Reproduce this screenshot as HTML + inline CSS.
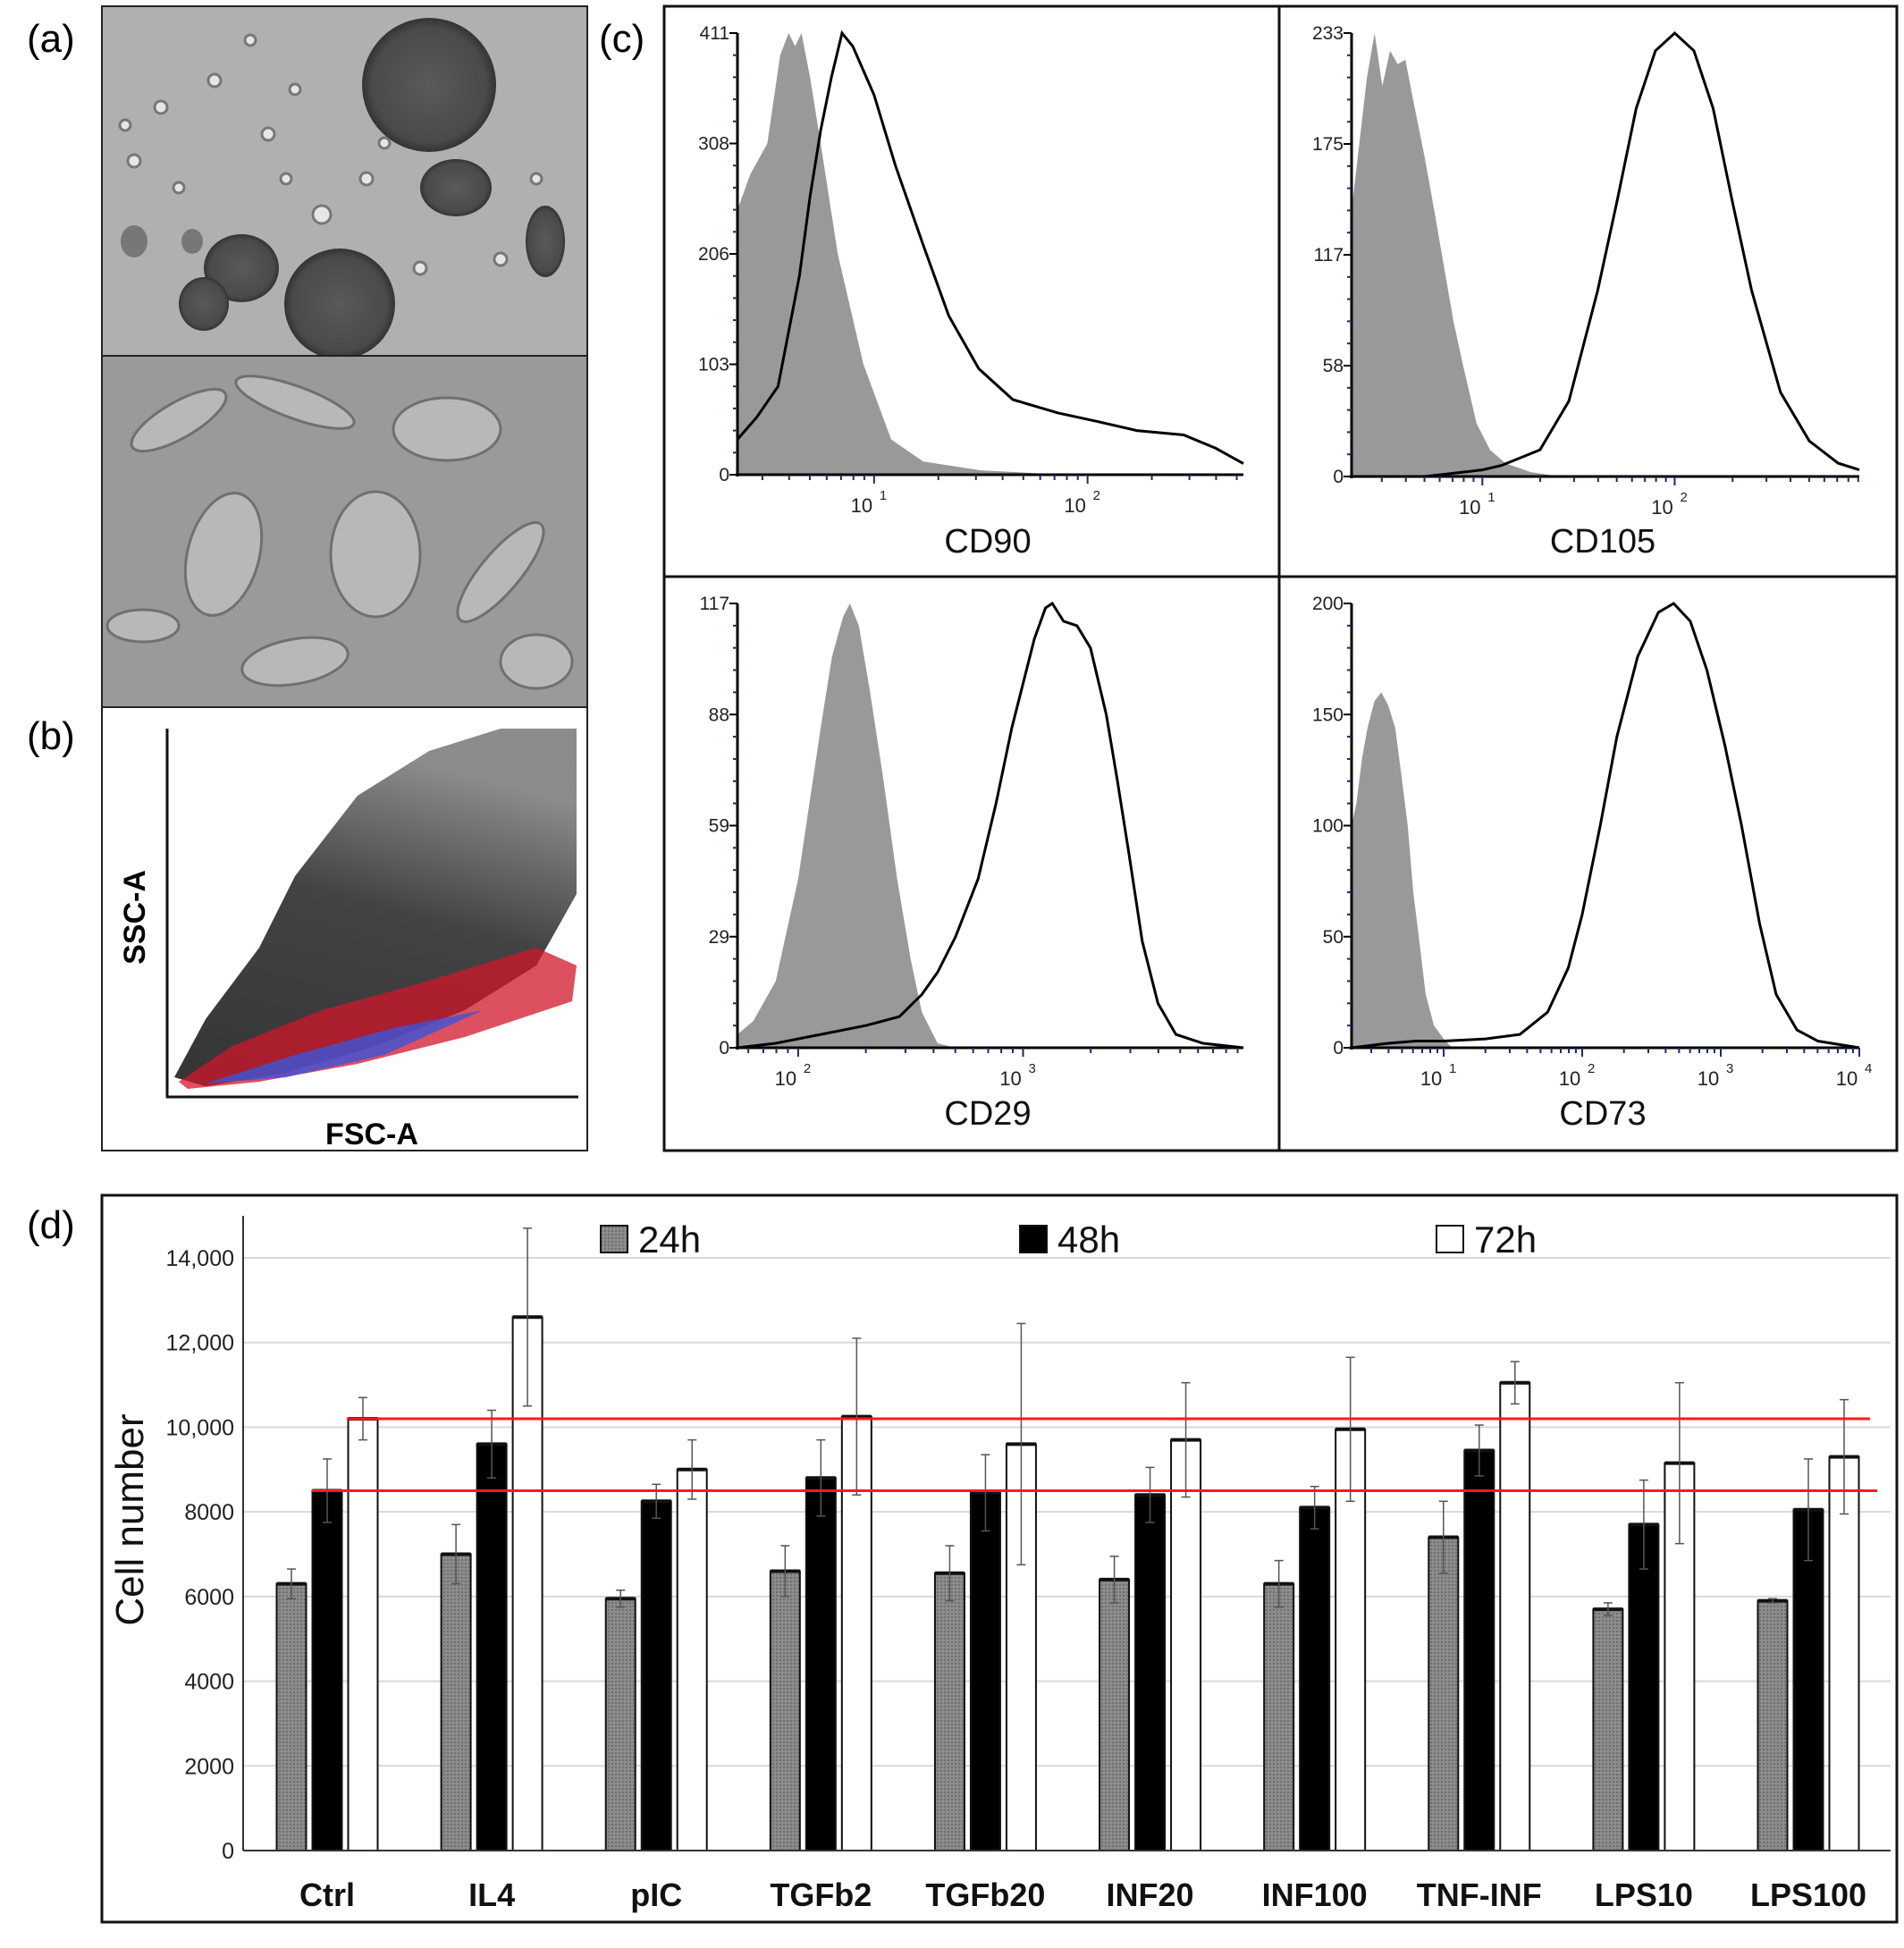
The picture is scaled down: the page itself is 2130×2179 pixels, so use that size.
<!DOCTYPE html>
<html><head><meta charset="utf-8"><style>
html,body{margin:0;padding:0;background:#fff;}
svg{display:block;font-family:"Liberation Sans",sans-serif;}
</style></head><body>
<svg id="fig" width="2130" height="2179" viewBox="0 0 2130 2179" xmlns="http://www.w3.org/2000/svg">
<defs>
<pattern id="stip" width="4" height="4" patternUnits="userSpaceOnUse"><rect width="4" height="4" fill="#8c8c8c"/><rect width="2" height="2" fill="#6e6e6e"/></pattern>
<radialGradient id="blob" cx="50%" cy="50%" r="50%"><stop offset="0" stop-color="#5a5a5a"/><stop offset="0.85" stop-color="#4a4a4a"/><stop offset="1" stop-color="#333"/></radialGradient>
<linearGradient id="cloud" x1="0" y1="1" x2="0.3" y2="0"><stop offset="0" stop-color="#111"/><stop offset="0.6" stop-color="#222"/><stop offset="1" stop-color="#777"/></linearGradient>
</defs>
<text x="30" y="58" font-size="44">(a)</text>
<text x="30" y="838" font-size="44">(b)</text>
<text x="670" y="58" font-size="44">(c)</text>
<text x="30" y="1385" font-size="44">(d)</text>

<g>
<rect x="114" y="7" width="543" height="391" fill="#b0b0b0" stroke="#222" stroke-width="2"/>
<circle cx="480" cy="95" r="75" fill="url(#blob)"/>
<ellipse cx="510" cy="210" rx="40" ry="32" fill="url(#blob)"/>
<circle cx="380" cy="340" r="62" fill="url(#blob)"/>
<ellipse cx="270" cy="300" rx="42" ry="38" fill="url(#blob)"/>
<ellipse cx="228" cy="340" rx="28" ry="30" fill="url(#blob)"/>
<ellipse cx="610" cy="270" rx="22" ry="40" fill="url(#blob)"/>
<ellipse cx="150" cy="270" rx="15" ry="18" fill="#777"/>
<ellipse cx="215" cy="270" rx="12" ry="14" fill="#777"/>
<g fill="#e6e6e6" stroke="#777" stroke-width="3">
<circle cx="180" cy="120" r="7"/><circle cx="240" cy="90" r="7"/><circle cx="300" cy="150" r="7"/><circle cx="410" cy="200" r="7"/><circle cx="330" cy="100" r="6"/><circle cx="150" cy="180" r="7"/><circle cx="360" cy="240" r="10"/><circle cx="560" cy="290" r="7"/><circle cx="470" cy="300" r="7"/><circle cx="280" cy="45" r="6"/><circle cx="430" cy="160" r="6"/><circle cx="140" cy="140" r="6"/><circle cx="320" cy="200" r="6"/><circle cx="600" cy="200" r="6"/><circle cx="200" cy="210" r="6"/>
</g>
</g>
<g>
<rect x="114" y="398" width="543" height="393" fill="#9a9a9a" stroke="#222" stroke-width="2"/>
<g fill="#b8b8b8" stroke="#707070" stroke-width="3">
<ellipse cx="200" cy="470" rx="60" ry="20" transform="rotate(-30 200 470)"/>
<ellipse cx="330" cy="450" rx="70" ry="18" transform="rotate(20 330 450)"/>
<ellipse cx="500" cy="480" rx="60" ry="35"/>
<ellipse cx="420" cy="620" rx="50" ry="70"/>
<ellipse cx="250" cy="620" rx="40" ry="70" transform="rotate(15 250 620)"/>
<ellipse cx="560" cy="640" rx="70" ry="22" transform="rotate(-50 560 640)"/>
<ellipse cx="160" cy="700" rx="40" ry="18"/>
<ellipse cx="330" cy="740" rx="60" ry="25" transform="rotate(-10 330 740)"/>
<ellipse cx="600" cy="740" rx="40" ry="30"/>
</g>
</g>

<g>
<rect x="114" y="791" width="543" height="496" fill="#fff" stroke="#222" stroke-width="2"/>
<polygon points="195,1205 230,1140 290,1060 330,980 400,890 480,840 560,815 645,815 645,1000 600,1080 520,1130 420,1170 320,1200 230,1215" fill="url(#cloud)" opacity="0.85"/>
<polygon points="200,1210 260,1170 360,1130 470,1100 600,1060 645,1080 640,1120 520,1160 400,1190 290,1210 210,1218" fill="#d0152a" opacity="0.75"/>
<polygon points="230,1212 330,1180 440,1150 540,1130 430,1180 320,1205" fill="#3b55d8" opacity="0.8"/>
<line x1="187" y1="815" x2="187" y2="1228" stroke="#111" stroke-width="3"/>
<line x1="186" y1="1227" x2="647" y2="1227" stroke="#111" stroke-width="3"/>
<text transform="translate(162,1026) rotate(-90)" text-anchor="middle" font-size="34" font-weight="bold">SSC-A</text>
<text x="416" y="1280" text-anchor="middle" font-size="34" font-weight="bold">FSC-A</text>
</g>

<g fill="none" stroke="#111" stroke-width="3">
<rect x="743" y="7" width="1379" height="1280"/>
<line x1="1431" y1="7" x2="1431" y2="1287"/>
<line x1="743" y1="645" x2="2122" y2="645"/>
</g>
<g id="hists"></g>

<rect x="114" y="1337" width="2008" height="813" fill="none" stroke="#111" stroke-width="3"/>
<g id="bars"></g>
</svg>
<script>
const categories = ["Ctrl","IL4","pIC","TGFb2","TGFb20","INF20","INF100","TNF-INF","LPS10","LPS100"];
const series24 = [6300,7000,5950,6600,6550,6400,6300,7400,5700,5900];
const series48 = [8500,9600,8250,8800,8450,8400,8100,9450,7700,8050];
const series72 = [10200,12600,9000,10250,9600,9700,9950,11050,9150,9300];
const err24 = [350,700,200,600,650,550,550,850,150,50];
const err48 = [750,800,400,900,900,650,500,600,1050,1200];
const err72 = [500,2100,700,1850,2850,1350,1700,500,1900,1350];
const yTicks = [0,2000,4000,6000,8000,10000,12000,14000];
const yTickLabels = ["0","2000","4000","6000","8000","10,000","12,000","14,000"];
const refLines = [10200,8500];
const legendLabels = ["24h","48h","72h"];

const cd90Gray = [[0.36,0.6],[0.42,0.68],[0.5,0.75],[0.53,0.85],[0.56,0.95],[0.6,1.0],[0.63,0.97],[0.66,1.0],[0.7,0.9],[0.75,0.75],[0.83,0.5],[0.95,0.25],[1.08,0.08],[1.23,0.03],[1.5,0.01],[1.9,0]];
const cd90Line = [[0.36,0.08],[0.45,0.13],[0.55,0.2],[0.65,0.45],[0.7,0.63],[0.75,0.78],[0.8,0.9],[0.85,1.0],[0.9,0.97],[1.0,0.86],[1.1,0.7],[1.23,0.52],[1.35,0.36],[1.49,0.24],[1.65,0.17],[1.86,0.14],[2.05,0.12],[2.23,0.1],[2.45,0.09],[2.6,0.06],[2.73,0.025]];
const cd105Gray = [[0.32,0.6],[0.36,0.75],[0.4,0.9],[0.44,1.0],[0.48,0.88],[0.52,0.96],[0.56,0.93],[0.6,0.94],[0.64,0.85],[0.7,0.72],[0.75,0.6],[0.79,0.5],[0.85,0.35],[0.9,0.25],[0.97,0.12],[1.04,0.06],[1.12,0.03],[1.25,0.01],[1.4,0]];
const cd105Line = [[0.7,0],[1.0,0.015],[1.1,0.025],[1.3,0.06],[1.45,0.17],[1.6,0.42],[1.7,0.62],[1.8,0.83],[1.9,0.96],[2.0,1.0],[2.1,0.96],[2.2,0.83],[2.3,0.62],[2.4,0.42],[2.55,0.19],[2.7,0.08],[2.85,0.03],[2.96,0.015]];
const cd29Gray = [[1.73,0.03],[1.8,0.06],[1.9,0.15],[2.0,0.38],[2.05,0.55],[2.1,0.72],[2.15,0.88],[2.2,0.97],[2.23,1.0],[2.27,0.95],[2.32,0.8],[2.38,0.6],[2.44,0.38],[2.5,0.2],[2.55,0.08],[2.62,0.01],[2.7,0]];
const cd29Line = [[1.73,0],[1.9,0.01],[2.1,0.03],[2.3,0.05],[2.45,0.07],[2.55,0.12],[2.62,0.17],[2.7,0.25],[2.8,0.38],[2.88,0.55],[2.95,0.72],[3.0,0.82],[3.05,0.92],[3.1,0.99],[3.13,1.0],[3.18,0.96],[3.24,0.95],[3.3,0.9],[3.37,0.75],[3.42,0.6],[3.47,0.44],[3.53,0.24],[3.6,0.1],[3.68,0.03],[3.8,0.01],[3.98,0]];
const cd73Gray = [[0.335,0.5],[0.37,0.55],[0.41,0.65],[0.45,0.72],[0.5,0.78],[0.55,0.8],[0.6,0.77],[0.65,0.72],[0.7,0.6],[0.74,0.5],[0.78,0.35],[0.82,0.25],[0.87,0.12],[0.93,0.05],[1.0,0.02],[1.06,0]];
const cd73Line = [[0.335,0],[0.6,0.01],[0.8,0.015],[1.0,0.015],[1.3,0.02],[1.55,0.03],[1.75,0.08],[1.9,0.18],[2.0,0.3],[2.13,0.5],[2.25,0.7],[2.4,0.88],[2.55,0.98],[2.66,1.0],[2.78,0.96],[2.9,0.85],[3.03,0.68],[3.15,0.5],[3.28,0.28],[3.4,0.12],[3.55,0.04],[3.7,0.015],[4.0,0]];
const cd90YLabels = ["0","103","206","308","411"];
const cd105YLabels = ["0","58","117","175","233"];
const cd29YLabels = ["0","29","59","88","117"];
const cd73YLabels = ["0","50","100","150","200"];
const cd90Decades = [1,2];
const cd105Decades = [1,2];
const cd29Decades = [2,3];
const cd73Decades = [1,2,3,4];

const NS = "http://www.w3.org/2000/svg";
function mk(tag, attrs, parent, txt){
  const e = document.createElementNS(NS, tag);
  for (const k in attrs) e.setAttribute(k, attrs[k]);
  if (txt !== undefined) e.textContent = txt;
  parent.appendChild(e);
  return e;
}

const H = document.getElementById('hists');
const panels = [
  {name:"cd90", title:"CD90", gray:cd90Gray, line:cd90Line, yl:cd90YLabels, dec:cd90Decades, x0:825, x1:1391, l0:0.36, l1:2.73, yT:37, yZ:531, tx:1105, ty:618},
  {name:"cd105", title:"CD105", gray:cd105Gray, line:cd105Line, yl:cd105YLabels, dec:cd105Decades, x0:1512, x1:2080, l0:0.32, l1:2.96, yT:37, yZ:533, tx:1793, ty:618},
  {name:"cd29", title:"CD29", gray:cd29Gray, line:cd29Line, yl:cd29YLabels, dec:cd29Decades, x0:825, x1:1391, l0:1.73, l1:3.98, yT:675, yZ:1172, tx:1105, ty:1258},
  {name:"cd73", title:"CD73", gray:cd73Gray, line:cd73Line, yl:cd73YLabels, dec:cd73Decades, x0:1512, x1:2080, l0:0.335, l1:4.0, yT:675, yZ:1172, tx:1793, ty:1258}
];
panels.forEach(p=>{
  const g = mk('g',{},H);
  
  
  const xs = l => p.x0 + (l-p.l0)/(p.l1-p.l0)*(p.x1-p.x0);
  const ys = f => p.yZ - f*(p.yZ-p.yT);
  let d = 'M'+xs(p.gray[0][0]).toFixed(1)+','+p.yZ;
  p.gray.forEach(pt=>{ d += ' L'+xs(pt[0]).toFixed(1)+','+ys(pt[1]).toFixed(1); });
  d += ' L'+xs(p.gray[p.gray.length-1][0]).toFixed(1)+','+p.yZ+' Z';
  const ga = mk('path',{d:d, fill:'#999', stroke:'none'},g);
  
  
  let d2 = '';
  p.line.forEach((pt,i)=>{ d2 += (i?' L':'M')+xs(pt[0]).toFixed(1)+','+ys(pt[1]).toFixed(1); });
  const ln = mk('path',{d:d2, fill:'none', stroke:'#000', 'stroke-width':3},g);
  
  
  mk('line',{x1:p.x0,y1:p.yT,x2:p.x0,y2:p.yZ+2,stroke:'#000','stroke-width':3},g);
  mk('line',{x1:p.x0-2,y1:p.yZ,x2:p.x1,y2:p.yZ,stroke:'#000','stroke-width':3},g);
  p.yl.forEach((lab,i)=>{
    const y = p.yZ - i/(p.yl.length-1)*(p.yZ-p.yT);
    mk('line',{x1:p.x0-9,y1:y,x2:p.x0,y2:y,stroke:'#000','stroke-width':2},g);
    const t = mk('text',{x:p.x0-9,y:y+7,'text-anchor':'end','font-size':21,fill:'#222'},g,lab);
    
    
    if(i<p.yl.length-1) for(let k=1;k<5;k++){
      const yy = y - k/5*(p.yZ-p.yT)/(p.yl.length-1);
      mk('line',{x1:p.x0-5,y1:yy,x2:p.x0,y2:yy,stroke:'#1a2a6a','stroke-width':2},g);
    }
  });
  for(let dd=Math.floor(p.l0); dd<=Math.ceil(p.l1); dd++){
    for(let m=1;m<10;m++){
      const l = dd+Math.log10(m);
      if(l<p.l0||l>p.l1) continue;
      const x = xs(l);
      mk('line',{x1:x,y1:p.yZ,x2:x,y2:p.yZ+(m===1?10:6),stroke:'#1a2a6a','stroke-width':2},g);
    }
  }
  p.dec.forEach(dv=>{
    const x = xs(dv);
    const t = mk('text',{x:x-14,y:p.yZ+42,'text-anchor':'middle','font-size':22,fill:'#222'},g,'10');
    
    
    mk('text',{x:x+6,y:p.yZ+28,'font-size':15,fill:'#222'},g,String(dv));
  });
  const tt = mk('text',{x:p.tx,y:p.ty,'text-anchor':'middle','font-size':38,fill:'#111'},g,p.title);
  
  
});

const B = document.getElementById('bars');
const axX = 272, axR = 2115, y0 = 2070, yMaxPx = 1407, vMax = 14000;
const yScale = v => y0 - v/vMax*(y0-yMaxPx);
const xCat = i => 366 + i*(2023-366)/(categories.length-1);
const bw = 33, off = 40;

yTicks.forEach((v,i)=>{
  const y = yScale(v);
  if(v>0){ const gl = mk('line',{x1:axX,y1:y,x2:axR,y2:y,stroke:'#d9d9d9','stroke-width':2},B);
      }
  const t = mk('text',{x:262,y:y+9,'text-anchor':'end','font-size':25,fill:'#222'},B,yTickLabels[i]);
  
  
});
const yt = mk('text',{transform:'translate(160,1700) rotate(-90)','text-anchor':'middle','font-size':44,fill:'#111'},B,'Cell number');



const seriesList = [series24, series48, series72];
const errList = [err24, err48, err72];
const fills = ['url(#stip)','#000','#fff'];
categories.forEach((c,i)=>{
  seriesList.forEach((s,j)=>{
    const cx = xCat(i) + (j-1)*off;
    const r = mk('rect',{x:cx-bw/2,y:yScale(s[i]),width:bw,height:y0-yScale(s[i]),fill:fills[j],stroke:'#111','stroke-width':2},B);
    
    
    mk('line',{x1:cx-bw/2,y1:yScale(s[i]),x2:cx+bw/2,y2:yScale(s[i]),stroke:'#111','stroke-width':4},B);
    const e = errList[j][i];
    const eg = mk('g',{stroke:'#555','stroke-width':1.5},B);
    
    
    mk('line',{x1:cx,y1:yScale(s[i]+e),x2:cx,y2:yScale(s[i]-e)},eg);
    mk('line',{x1:cx-5,y1:yScale(s[i]+e),x2:cx+5,y2:yScale(s[i]+e)},eg);
    mk('line',{x1:cx-5,y1:yScale(s[i]-e),x2:cx+5,y2:yScale(s[i]-e)},eg);
  });
  const t = mk('text',{x:xCat(i),y:2132,'text-anchor':'middle','font-size':36,'font-weight':'bold',fill:'#111'},B,c);
  
  
});
mk('line',{x1:axX,y1:1360,x2:axX,y2:y0,stroke:'#333','stroke-width':2},B);
mk('line',{x1:axX,y1:y0,x2:axR,y2:y0,stroke:'#333','stroke-width':2},B);
const refStarts = [388,349], refEnds = [2092,2100];
refLines.forEach((v,k)=>{
  const l = mk('line',{x1:refStarts[k],y1:yScale(v),x2:refEnds[k],y2:yScale(v),stroke:'#ff1a1a','stroke-width':3},B);
  
  
});
const legX = [672,1141,1607];
legendLabels.forEach((lab,j)=>{
  const g = mk('g',{},B);
  
  
  mk('rect',{x:legX[j],y:1371,width:30,height:30,fill:fills[j],stroke:'#111','stroke-width':2},g);
  mk('text',{x:legX[j]+42,y:1401,'font-size':42,fill:'#111'},g,lab);
});
</script>
</body></html>
